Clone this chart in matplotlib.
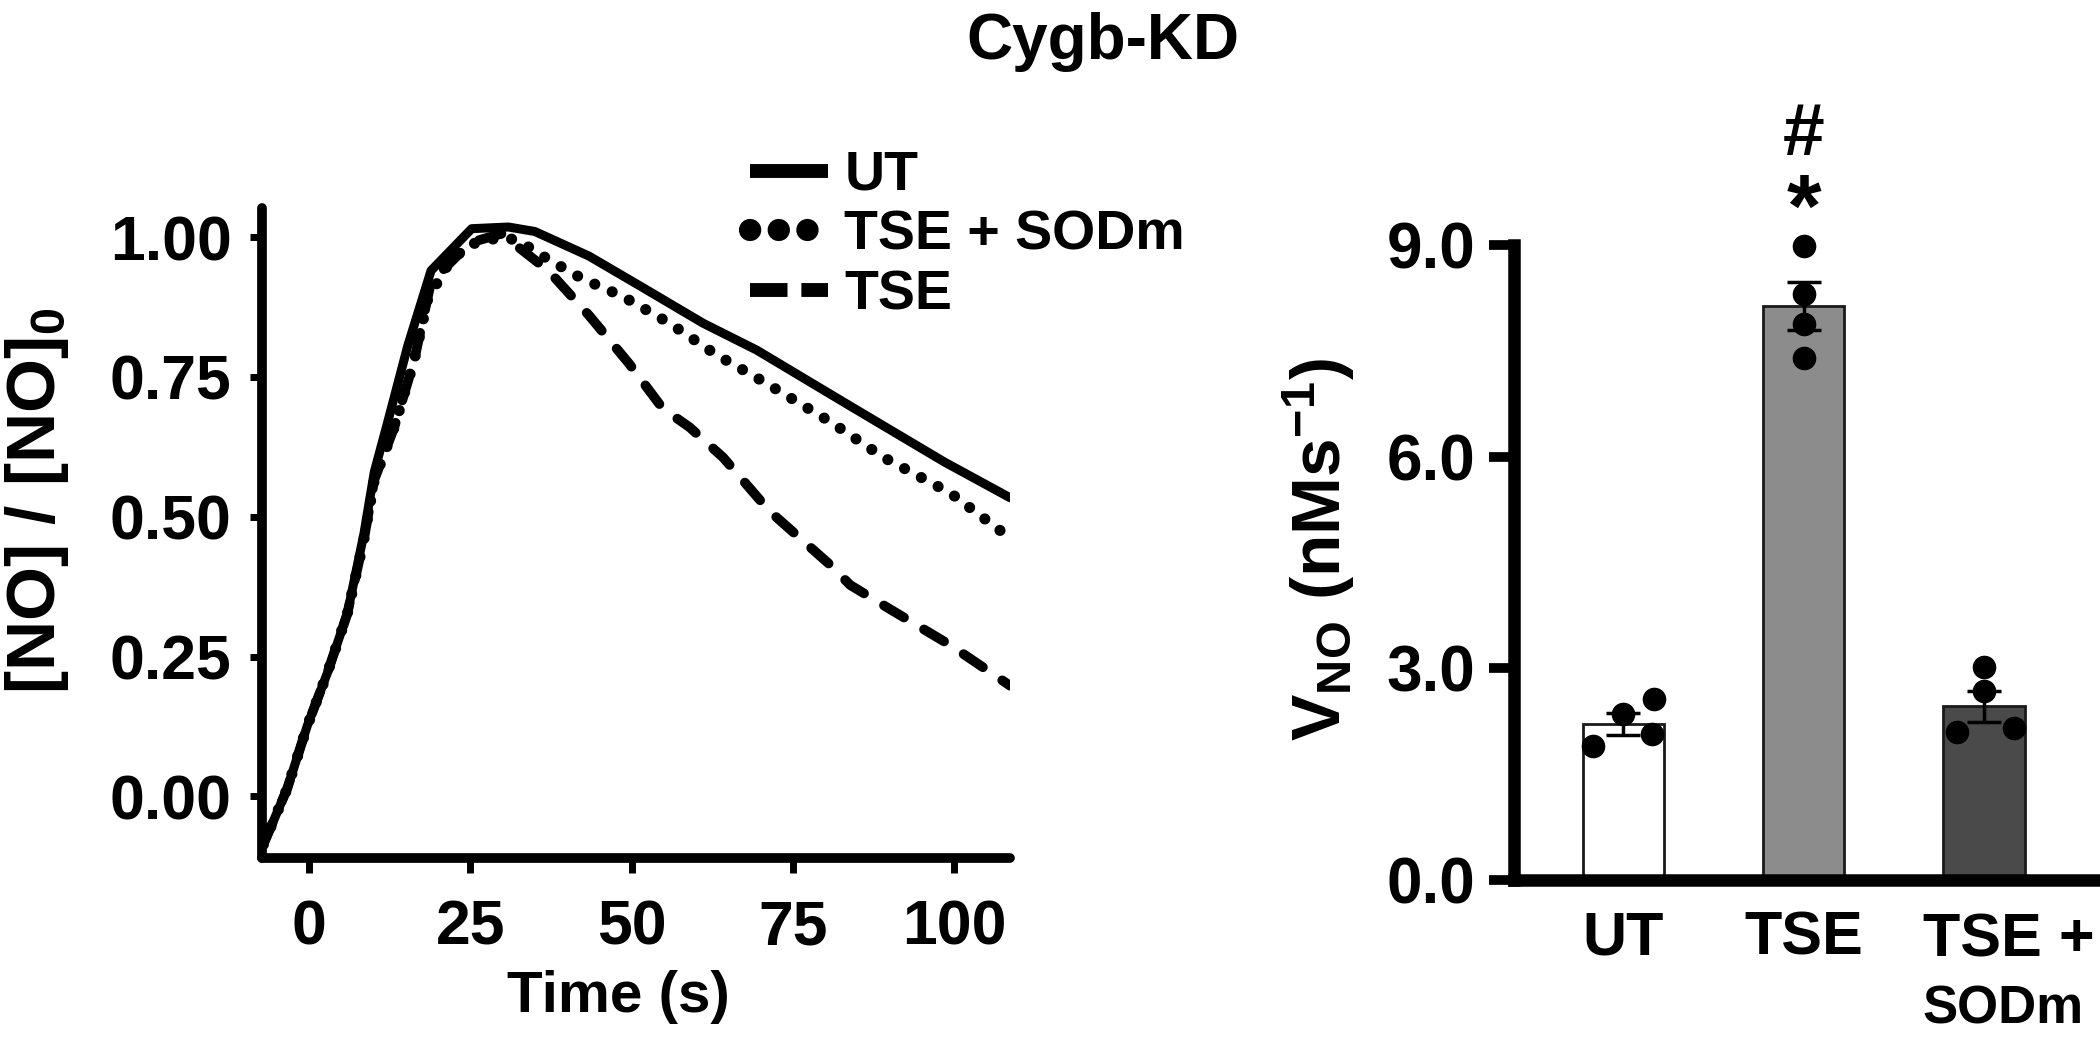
import matplotlib
matplotlib.use("Agg")
import matplotlib.pyplot as plt
from matplotlib.lines import Line2D
import numpy as np

# ---------------- data ----------------
ut_t = [-7.1, -3.4, -0.3, 2.8, 5.9, 8.5, 10.1, 12.2, 15.3, 18.9, 25.2, 30.9, 35.0, 43.4, 51.7, 61.1, 69.4, 83.9, 98.5, 108.7]
ut_v = [-0.086, 0.014, 0.126, 0.22, 0.326, 0.47, 0.58, 0.67, 0.806, 0.94, 1.015, 1.018, 1.01, 0.966, 0.91, 0.846, 0.798, 0.698, 0.598, 0.534]

sod_t = [-7.1, -3.4, -0.3, 2.8, 5.9, 8.5, 10.1, 13.2, 16.3, 18.4, 21.5, 24.6, 29.8, 32.4, 37.1, 42.3, 48.6, 55.9, 63.1, 70.4, 80.8, 89.1, 99.5, 108.7]
sod_v = [-0.086, 0.014, 0.126, 0.22, 0.326, 0.46, 0.566, 0.66, 0.78, 0.89, 0.95, 0.986, 1.0, 0.994, 0.96, 0.926, 0.894, 0.846, 0.79, 0.742, 0.67, 0.606, 0.542, 0.462]

tse_t = [-7.1, -3.4, -0.3, 2.8, 5.9, 8.5, 10.1, 13.2, 16.3, 18.9, 25.0, 29.8, 37.1, 43.4, 49.6, 54.8, 59.0, 64.2, 71.4, 80.8, 83.9, 90.2, 99.5, 108.7]
tse_v = [-0.086, 0.014, 0.126, 0.22, 0.326, 0.46, 0.566, 0.66, 0.78, 0.92, 0.99, 1.006, 0.94, 0.86, 0.774, 0.694, 0.66, 0.606, 0.51, 0.414, 0.378, 0.334, 0.27, 0.198]

groups = ["UT", "TSE", "TSE +"]
bar_means = [2.21, 8.14, 2.46]
bar_sem = [0.16, 0.34, 0.22]
pts_ut = [1.90, 2.35, 2.07, 2.57]
pts_tse = [8.99, 8.31, 7.88, 7.40]
pts_sod = [3.02, 2.68, 2.10, 2.15]

# ---------------- style ----------------
REG = "Liberation Sans"
plt.rcParams["font.family"] = [REG, "DejaVu Sans"]
plt.rcParams["font.weight"] = "bold"
plt.rcParams["mathtext.fontset"] = "custom"
plt.rcParams["mathtext.rm"] = "Liberation Sans:bold"
plt.rcParams["mathtext.bf"] = "Liberation Sans:bold"
plt.rcParams["mathtext.it"] = "Liberation Sans:bold"

fig = plt.figure(figsize=(21, 10.41), dpi=100)

# ---------------- left panel ----------------
ax = fig.add_axes([0.1248, 0.1758, 0.3562, 0.6244])
ax.plot(ut_t, ut_v, color="black", lw=6.5, solid_capstyle="round",
        solid_joinstyle="round", zorder=3)
ax.plot(sod_t, sod_v, color="black", lw=8, linestyle=(0, (0.01, 1.7)),
        dash_capstyle="round", zorder=3)
ax.plot(tse_t, tse_v, color="black", lw=7, linestyle=(0, (2.4, 2.4)),
        dash_capstyle="round", zorder=3)
ax.set_xlim(-7.3, 108.7)
ax.set_ylim(-0.11, 1.052)
ax.set_xticks([0, 25, 50, 75, 100])
ax.set_yticks([0, 0.25, 0.5, 0.75, 1.0])
ax.set_yticklabels(["0.00", "0.25", "0.50", "0.75", "1.00"])
for s in ["top", "right"]:
    ax.spines[s].set_visible(False)
for s in ["left", "bottom"]:
    ax.spines[s].set_linewidth(7)
    ax.spines[s].set_capstyle("round")
ax.tick_params(axis="y", length=9, width=5, pad=13, labelsize=45)
ax.tick_params(axis="x", length=11, width=5, pad=18, labelsize=45)
ax.set_xlabel("Time (s)", fontsize=42, fontweight="bold")
ax.xaxis.set_label_coords(0.476, -0.172)
ax.set_ylabel(r"[NO] / [NO]$_\mathrm{0}$", fontsize=50, fontweight="bold")
ax.yaxis.set_label_coords(-0.255, 0.55)

handles = [Line2D([], [], color="black", lw=10, solid_capstyle="butt"),
           Line2D([], [], color="black", lw=16, linestyle=(0, (0.01, 1.28)), dash_capstyle="round"),
           Line2D([], [], color="black", lw=10, linestyle=(0, (2.7, 1.0)), dash_capstyle="butt")]
fig.legend(handles, ["UT", "TSE + SODm", "TSE"], loc="upper left",
           bbox_to_anchor=(750 / 2100, 1 - 150 / 1041), frameon=False,
           prop={"family": REG, "weight": "bold", "size": 40},
           handlelength=1.4, handletextpad=0.3, labelspacing=0.14,
           borderpad=0, borderaxespad=0)

fig.text(1103 / 2100, 1 - 42 / 1041, "Cygb-KD", ha="center", va="center",
         fontsize=46, fontweight="bold")

# ---------------- right panel ----------------
bx = fig.add_axes([0.721, 0.1547, 0.2771, 0.61])
xpos = np.arange(len(groups))
bx.bar(xpos, bar_means, width=0.45, color=["white", "#8c8c8c", "#4a4a4a"],
       edgecolor="#1a1a1a", linewidth=2, zorder=2)
bx.errorbar(xpos, bar_means, yerr=bar_sem, fmt="none", ecolor="black",
            elinewidth=2.5, capsize=12, capthick=2.5, zorder=3)
jitter = [[-0.165, 0.0, 0.16, 0.17], [0, 0, 0, 0], [0.0, 0.0, -0.15, 0.165]]
for i, pts in enumerate([pts_ut, pts_tse, pts_sod]):
    bx.plot(xpos[i] + np.array(jitter[i]), pts, "o", color="black", ms=16,
            zorder=4, clip_on=False)
bx.set_xlim(-0.604, 2.62)
bx.set_ylim(0, 9)
bx.set_yticks([0, 3, 6, 9])
bx.set_yticklabels(["0.0", "3.0", "6.0", "9.0"])
bx.set_xticks(xpos)
bx.set_xticklabels(["UT", "TSE", ""])
for s in ["top", "right"]:
    bx.spines[s].set_visible(False)
for s in ["left", "bottom"]:
    bx.spines[s].set_linewidth(9)
bx.tick_params(axis="y", length=18, width=7, pad=10, labelsize=46)
bx.tick_params(axis="x", length=0, pad=22, labelsize=44)
xt = bx.get_xaxis_transform()
bx.text(1.66, -0.052, "TSE +", transform=xt, ha="left",
        va="top", fontsize=44, fontweight="bold", clip_on=False)
bx.text(1.66, -0.165, "SODm", transform=xt, ha="left",
        va="top", fontsize=38, fontweight="bold", clip_on=False)
bx.text(1, 9.45, "*", ha="center", va="center", fontsize=64, fontweight="bold", clip_on=False)
bx.text(1, 10.55, "#", ha="center", va="center", fontsize=54, fontweight="bold", clip_on=False)
bx.set_ylabel(r"V$_\mathrm{NO}$ (nMs$^\mathrm{-1}$)", fontsize=50, fontweight="bold")
bx.yaxis.set_label_coords(-0.27, 0.52)

fig.savefig("out.png", dpi=100)
